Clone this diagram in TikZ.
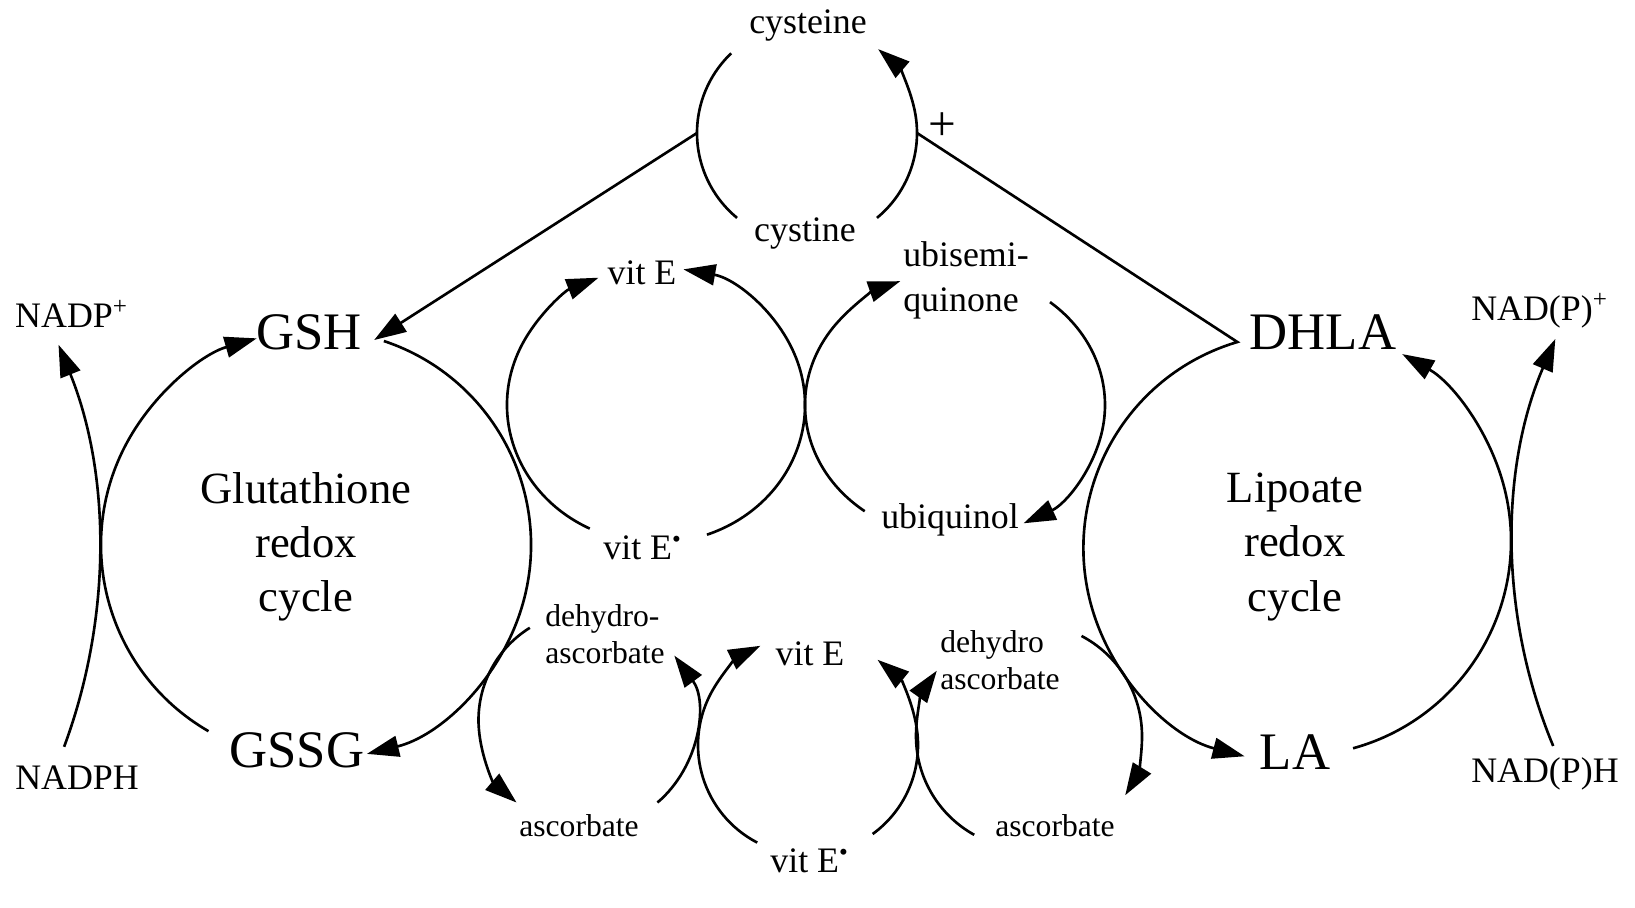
\documentclass[tikz,border=0pt]{standalone}
\usepackage{fontspec}
\setmainfont{Liberation Serif}
\usepackage{tikz}
\usetikzlibrary{arrows.meta,calc}
\tikzset{
  metab/.style={font=\fontsize{10.2}{12.8}\selectfont, align=left},
  smallmetab/.style={font=\fontsize{9}{10.5}\selectfont, align=left},
  bigmetab/.style={font=\fontsize{15}{18}\selectfont},
  cyclename/.style={font=\fontsize{12.7}{15.4}\selectfont, align=center},
  reaction/.style={-{Triangle[length=3.2mm, width=2.1mm]}, line width=0.75pt},
  linkline/.style={line width=0.75pt},
}

\begin{document}
\begin{tikzpicture}[x=0.1mm,y=0.1mm]
  \useasboundingbox (0,0) rectangle (1635,907);
  % centres of the cycles
  \coordinate (cys)  at (807,774);
  \coordinate (glu)  at (316,362);
  \coordinate (lip)  at (1296,366);
  \coordinate (vet)  at (656,502);
  \coordinate (ubi)  at (955,502);
  \coordinate (ascl) at (587,187);
  \coordinate (veb)  at (808,162);
  \coordinate (ascr) at (1029,171);
  \coordinate (nadl) at (-457,354);
  \coordinate (nadr) at (2036,362);

  \node[bigmetab] (GSH)  at (309,575)  {GSH};
  \node[bigmetab] (GSSG) at (297,157)  {GSSG};
  \node[bigmetab] (DHLA) at (1323,575) {DHLA};
  \node[bigmetab] (LA)   at (1295,155) {LA};
  \node[cyclename] (glucyc) at (306,360)  {Glutathione\\redox\\cycle};
  \node[cyclename] (lipcyc) at (1295,360) {Lipoate\\redox\\cycle};

  \node[metab] (nadp)   at (72,593)   {NADP\textsuperscript{+}};
  \node[metab] (nadph)  at (77,129)   {NADPH};
  \node[metab] (nadpp)  at (1540,596) {NAD(P)\textsuperscript{+}};
  \node[metab] (nadpph) at (1545,133) {NAD(P)H};

  \node[metab] (cysteine) at (808,882) {cysteine};
  \node[metab] (cystine)  at (805,674) {cystine};
  \node[font=\fontsize{14}{16}\selectfont] (plus) at (942,780) {+};

  \node[metab] (vitE)   at (642,634) {vit E};
  \node[metab] (vitErd) at (643,359) {vit E\textsuperscript{\textbullet}};
  \node[metab] (usq)    at (966,627) {ubisemi-\\quinone};
  \node[metab] (uql)    at (950,387) {ubiquinol};

  \node[smallmetab] (dhal)  at (605,273)  {dehydro-\\ascorbate};
  \node[smallmetab] (dhar)  at (1000,247) {dehydro\\ascorbate};
  \node[smallmetab] (ascbl) at (579,81)   {ascorbate};
  \node[smallmetab] (ascbr) at (1055,81)  {ascorbate};
  \node[metab] (vitEb)   at (810,253) {vit E};
  \node[metab] (vitErdb) at (810,46)  {vit E\textsuperscript{\textbullet}};

  \draw[linkline] ([shift={(133.6:110)}]cys) arc[start angle=133.6, end angle=230.5, radius=110];
  \draw[reaction] ([shift={(-50.5:110)}]cys) arc[start angle=-50.5, end angle=49.7, radius=110];
  \draw[reaction] ([shift={(180:110)}]cys) -- ([yshift=-0.8mm]GSH.east);
  \draw[reaction] ([shift={(0:110)}]cys) -- ([yshift=-1mm]DHLA.west) arc[start angle=106.5, end angle=255.5, radius=215];

  \draw[reaction] ([shift={(240:215)}]glu) arc[start angle=240, end angle=106, radius=215];
  \draw[reaction] ([shift={(71.6:215)}]glu) arc[start angle=71.6, end angle=-76.3, radius=215];
  \draw[reaction] ([shift={(-74.6:215)}]lip) arc[start angle=-74.6, end angle=60.4, radius=215];

  \draw[reaction] ([shift={(-20.4:556)}]nadl) arc[start angle=-20.4, end angle=22, radius=556];
  \draw[reaction] ([shift={(202.6:523)}]nadr) arc[start angle=202.6, end angle=156.8, radius=523];

  \draw[reaction] ([shift={(243.6:149 and 138)}]vet) arc[start angle=243.6, end angle=112.7, x radius=149, y radius=138];
  \draw[reaction] ([shift={(-70:149 and 138)}]vet) arc[start angle=-70, end angle=79.4, x radius=149, y radius=138];
  \draw[reaction] ([shift={(233:150 and 133)}]ubi) arc[start angle=233, end angle=111.4, x radius=150, y radius=133];
  \draw[reaction] ([shift={(50.7:150 and 133)}]ubi) arc[start angle=50.7, end angle=-62.8, x radius=150, y radius=133];

  \draw[reaction] ([shift={(121.8:108.5)}]ascl) arc[start angle=121.8, end angle=229.5, radius=108.5];
  \draw[reaction] ([shift={(-49.5:108.5)}]ascl) arc[start angle=-49.5, end angle=36.4, radius=108.5];
  \draw[reaction] ([shift={(242.5:110)}]veb) arc[start angle=242.5, end angle=115.6, radius=110];
  \draw[reaction] ([shift={(-54:110)}]veb) arc[start angle=-54, end angle=50.8, radius=110];
  \draw[reaction] ([shift={(241:113)}]ascr) arc[start angle=241, end angle=144.7, radius=113];
  \draw[reaction] ([shift={(62.3:113)}]ascr) arc[start angle=62.3, end angle=-31.6, radius=113];
\end{tikzpicture}
\end{document}
